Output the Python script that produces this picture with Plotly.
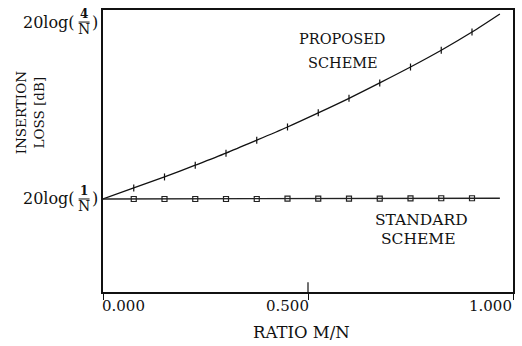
import plotly.graph_objects as go

# Ratio M/N sample points (marker positions) and curve end point
ratio = [0.0, 0.075, 0.15, 0.225, 0.3, 0.375, 0.45, 0.525, 0.6, 0.675, 0.75, 0.825, 0.9, 0.968]

# Insertion loss relative to 20log(1/N), in dB
proposed_db = [0.0, 0.75, 1.50, 2.30, 3.12, 4.00, 4.90, 5.86, 6.85, 7.90, 8.98, 10.12, 11.36, 12.59]
standard_db = [0.0, 0.0, 0.0, 0.0, 0.0, 0.0, 0.02, 0.02, 0.03, 0.03, 0.04, 0.05, 0.05, 0.05]

x_ticks = [0.0, 0.5, 1.0]
x_tick_text = ["0.000", "0.500", "1.000"]
y_levels = [0.0, 12.04]          # 20log(1/N) and 20log(4/N) relative to 20log(1/N)
y_numerators = ["1", "4"]

SERIF = "DejaVu Serif"
INK = "#111"
W, H = 522, 346
ML, MR, MT, MB = 103, 7, 10, 54
PW = W - ML - MR
PH = H - MT - MB


def px(xpix):
    """Convert a horizontal pixel position to paper coordinates."""
    return (xpix - ML) / PW


def py(ypix):
    """Convert a vertical pixel position to paper coordinates."""
    return 1 - (ypix - MT) / PH


fig = go.Figure()

# Proposed scheme: smooth curve with small vertical tick markers
fig.add_trace(go.Scatter(x=ratio, y=proposed_db, mode="lines",
                         line=dict(color=INK, width=1.3, shape="spline", smoothing=0.8),
                         hoverinfo="skip", showlegend=False))
fig.add_trace(go.Scatter(x=ratio[1:-1], y=proposed_db[1:-1], mode="markers",
                         marker=dict(symbol="line-ns", size=5,
                                     line=dict(color=INK, width=1.2)),
                         showlegend=False))

# Standard scheme: flat line with open squares
fig.add_trace(go.Scatter(x=ratio, y=standard_db, mode="lines",
                         line=dict(color="#222", width=1.3),
                         hoverinfo="skip", showlegend=False))
fig.add_trace(go.Scatter(x=ratio[1:-1], y=standard_db[1:-1], mode="markers",
                         marker=dict(symbol="square-open", size=5,
                                     color="#222", line=dict(width=1.2)),
                         showlegend=False))

annotations = []
shapes = []

# x tick labels: first one sits right of its tick, the others left of theirs
label_offsets = [20.5, -21, -22.5]   # pixel offset of label centre from the tick
for xv, txt, off in zip(x_ticks, x_tick_text, label_offsets):
    annotations.append(dict(x=xv, y=py(306), xref="x", yref="paper", text=txt,
                            xanchor="center", yanchor="middle", xshift=off,
                            showarrow=False,
                            font=dict(family=SERIF, size=15, color=INK)))

# inner part of the centre tick
shapes.append(dict(type="line", x0=0.5, x1=0.5, xref="x", yref="paper",
                   y0=0, y1=0.035, line=dict(color=INK, width=1.2)))

# y level labels written as 20log(k/N) with a stacked fraction
for yv, num in zip(y_levels, y_numerators):
    annotations.append(dict(x=px(77), y=yv, xref="paper", yref="y",
                            text="20log(", xanchor="right", yanchor="middle",
                            showarrow=False,
                            font=dict(family=SERIF, size=16, color=INK)))
    annotations.append(dict(x=px(84), y=yv, xref="paper", yref="y",
                            text="<b>" + num + "</b>", xanchor="center",
                            yanchor="middle", yshift=8, showarrow=False,
                            font=dict(family=SERIF, size=12, color=INK)))
    annotations.append(dict(x=px(84), y=yv, xref="paper", yref="y",
                            text="N", xanchor="center", yanchor="middle",
                            yshift=-7, showarrow=False,
                            font=dict(family=SERIF, size=14, color=INK)))
    annotations.append(dict(x=px(90), y=yv, xref="paper", yref="y",
                            text=")", xanchor="left", yanchor="middle",
                            showarrow=False,
                            font=dict(family=SERIF, size=16, color=INK)))
    shapes.append(dict(type="line", xref="paper", yref="y",
                       x0=px(78.5), x1=px(89.5), y0=yv, y1=yv,
                       line=dict(color=INK, width=1)))

# axis titles
annotations.append(dict(x=px(30), y=py(112), xref="paper", yref="paper",
                        text="INSERTION<br>LOSS [dB]", textangle=-90,
                        xanchor="center", yanchor="middle", showarrow=False,
                        font=dict(family=SERIF, size=13.5, color=INK)))
annotations.append(dict(x=px(302), y=py(332), xref="paper", yref="paper",
                        text="RATIO M/N", xanchor="center", yanchor="middle",
                        showarrow=False,
                        font=dict(family=SERIF, size=16.5, color=INK)))

# curve labels
for text, xpix, ypix, size in [("PROPOSED", 343, 39, 14.5), ("SCHEME", 344, 63, 14.5),
                               ("STANDARD", 423, 220, 15.5), ("SCHEME", 420, 239, 15.5)]:
    annotations.append(dict(x=px(xpix), y=py(ypix),
                            xref="paper", yref="paper", text=text,
                            xanchor="center", yanchor="middle",
                            showarrow=False,
                            font=dict(family=SERIF, size=size, color=INK)))

fig.update_layout(
    width=W, height=H,
    margin=dict(l=ML, r=MR, t=MT, b=MB),
    paper_bgcolor="white", plot_bgcolor="white",
    showlegend=False,
    annotations=annotations, shapes=shapes,
    xaxis=dict(range=[0, 1], tickvals=x_ticks, ticktext=["", "", ""],
               ticks="outside", ticklen=6, tickwidth=1.2, tickcolor=INK,
               showgrid=False, zeroline=False,
               showline=True, linecolor=INK, linewidth=2, mirror=True),
    yaxis=dict(range=[-6.33, 12.86], showticklabels=False, ticks="",
               showgrid=False, zeroline=False,
               showline=True, linecolor=INK, linewidth=2, mirror=True),
)

fig.write_html("out.html")
